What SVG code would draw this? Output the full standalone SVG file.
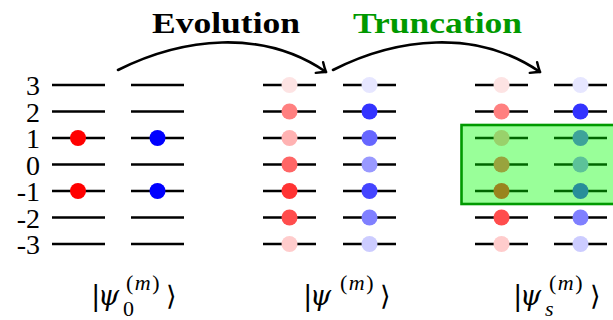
<svg xmlns="http://www.w3.org/2000/svg" xmlns:xlink="http://www.w3.org/1999/xlink" width="613" height="320" viewBox="0 0 613 320">
<style>
.rung{stroke:#000;stroke-width:2.5;fill:none}
.arc{stroke:#000;stroke-width:2.6;fill:none;stroke-linecap:round}
.lvl{font-family:"Liberation Serif",serif;font-size:28px;text-anchor:end;fill:#000}
.ttl{font-family:"Liberation Serif",serif;font-size:30px;font-weight:bold}
.ketlabel{font-family:"Liberation Serif",serif;fill:#000}
.bar{font-family:"DejaVu Serif",serif;font-size:28px}
.psi{font-family:"DejaVu Serif",serif;font-style:italic;font-size:27px}
.sup{font-family:"Liberation Serif",serif;font-size:22px;font-style:normal}
.ket{font-family:"DejaVu Serif",serif;font-size:27px}
.it{font-style:italic}
.r3{fill:#fde3e3}.r2{fill:#ff8080}.r1{fill:#ffb2b2}.r0{fill:#ff6666}.rm1{fill:#ff3333}.rm2{fill:#ff4d4d}.rm3{fill:#ffcccc}
.b3{fill:#e6e6ff}.b2{fill:#3333ff}.b1{fill:#6666ff}.b0{fill:#9999ff}.bm1{fill:#4444ff}.bm2{fill:#8080ff}.bm3{fill:#ccccff}
</style>
<defs>
<g id="rungs">
<line class="rung" x1="0" y1="85" x2="53" y2="85"/>
<line class="rung" x1="0" y1="111.5" x2="53" y2="111.5"/>
<line class="rung" x1="0" y1="138" x2="53" y2="138"/>
<line class="rung" x1="0" y1="164.5" x2="53" y2="164.5"/>
<line class="rung" x1="0" y1="191" x2="53" y2="191"/>
<line class="rung" x1="0" y1="217.5" x2="53" y2="217.5"/>
<line class="rung" x1="0" y1="244" x2="53" y2="244"/>
</g>
<marker id="tip" markerUnits="userSpaceOnUse" markerWidth="20" markerHeight="20" viewBox="-12 -10 20 20" refX="0" refY="0" orient="auto">
<path d="M-8,-6.5 Q-3,-2 0,0 Q-3,2 -8,6.5" fill="none" stroke="#000" stroke-width="2.4" stroke-linecap="round" stroke-linejoin="round"/>
</marker>
</defs>

<g id="level-labels">
<text class="lvl" x="40" y="95">3</text>
<text class="lvl" x="40" y="121.5">2</text>
<text class="lvl" x="40" y="148">1</text>
<text class="lvl" x="40" y="174.5">0</text>
<text class="lvl" x="40" y="201">-1</text>
<text class="lvl" x="40" y="227.5">-2</text>
<text class="lvl" x="40" y="254">-3</text>
</g>

<g id="titles">
<text class="ttl" x="152" y="33" textLength="148" lengthAdjust="spacingAndGlyphs" fill="#000">Evolution</text>
<text class="ttl" x="353" y="33" textLength="169" lengthAdjust="spacingAndGlyphs" fill="#009900">Truncation</text>
</g>

<g id="initial-state">
<use xlink:href="#rungs" x="52"/>
<use xlink:href="#rungs" x="131"/>
<circle cx="78" cy="138" r="8" fill="#ff0000"/>
<circle cx="78" cy="191" r="8" fill="#ff0000"/>
<circle cx="157.5" cy="138" r="8" fill="#0000ff"/>
<circle cx="157.5" cy="191" r="8" fill="#0000ff"/>
</g>

<g id="evolved-state">
<use xlink:href="#rungs" x="263"/>
<use xlink:href="#rungs" x="343"/>
<circle class="r3" cx="289.5" cy="85" r="8"/>
<circle class="r2" cx="289.5" cy="111.5" r="8"/>
<circle class="r1" cx="289.5" cy="138" r="8"/>
<circle class="r0" cx="289.5" cy="164.5" r="8"/>
<circle class="rm1" cx="289.5" cy="191" r="8"/>
<circle class="rm2" cx="289.5" cy="217.5" r="8"/>
<circle class="rm3" cx="289.5" cy="244" r="8"/>
<circle class="b3" cx="369.5" cy="85" r="8"/>
<circle class="b2" cx="369.5" cy="111.5" r="8"/>
<circle class="b1" cx="369.5" cy="138" r="8"/>
<circle class="b0" cx="369.5" cy="164.5" r="8"/>
<circle class="bm1" cx="369.5" cy="191" r="8"/>
<circle class="bm2" cx="369.5" cy="217.5" r="8"/>
<circle class="bm3" cx="369.5" cy="244" r="8"/>
</g>

<g id="truncated-state">
<use xlink:href="#rungs" x="475"/>
<use xlink:href="#rungs" x="554"/>
<circle class="r3" cx="501.5" cy="85" r="8"/>
<circle class="r2" cx="501.5" cy="111.5" r="8"/>
<circle class="r1" cx="501.5" cy="138" r="8"/>
<circle class="r0" cx="501.5" cy="164.5" r="8"/>
<circle class="rm1" cx="501.5" cy="191" r="8"/>
<circle class="rm2" cx="501.5" cy="217.5" r="8"/>
<circle class="rm3" cx="501.5" cy="244" r="8"/>
<circle class="b3" cx="580.5" cy="85" r="8"/>
<circle class="b2" cx="580.5" cy="111.5" r="8"/>
<circle class="b1" cx="580.5" cy="138" r="8"/>
<circle class="b0" cx="580.5" cy="164.5" r="8"/>
<circle class="bm1" cx="580.5" cy="191" r="8"/>
<circle class="bm2" cx="580.5" cy="217.5" r="8"/>
<circle class="bm3" cx="580.5" cy="244" r="8"/>
</g>

<g id="truncation-window">
<rect x="461.5" y="125" width="160" height="79" fill="#00ff00" fill-opacity="0.4" stroke="#009900" stroke-width="2.6"/>
</g>

<g id="connectors">
<path class="arc" d="M118,70 C182,38 262,28 326,72" marker-end="url(#tip)"/>
<path class="arc" d="M333,70 C396,38 476,28 540,72" marker-end="url(#tip)"/>
</g>

<g id="state-labels">
<g id="label-psi0">
<text class="ketlabel" y="305"><tspan class="bar" x="91">|</tspan><tspan class="psi" x="98">ψ</tspan><tspan class="sup" x="123" y="316">0</tspan><tspan class="sup" x="126" y="290">(</tspan><tspan class="sup it" dx="1.5">m</tspan><tspan class="sup" dx="1.5">)</tspan><tspan class="ket" x="166" y="305">⟩</tspan></text>
</g>
<g id="label-psi">
<text class="ketlabel" y="305"><tspan class="bar" x="303">|</tspan><tspan class="psi" x="310">ψ</tspan><tspan class="sup" x="340" y="290">(</tspan><tspan class="sup it" dx="1.5">m</tspan><tspan class="sup" dx="1.5">)</tspan><tspan class="ket" x="380" y="305">⟩</tspan></text>
</g>
<g id="label-psis">
<text class="ketlabel" y="305"><tspan class="bar" x="513">|</tspan><tspan class="psi" x="520">ψ</tspan><tspan class="sup it" x="545" y="316" style="font-style:italic">s</tspan><tspan class="sup" x="549" y="290">(</tspan><tspan class="sup it" dx="1.5">m</tspan><tspan class="sup" dx="1.5">)</tspan><tspan class="ket" x="590" y="305">⟩</tspan></text>
</g>
</g>
</svg>
